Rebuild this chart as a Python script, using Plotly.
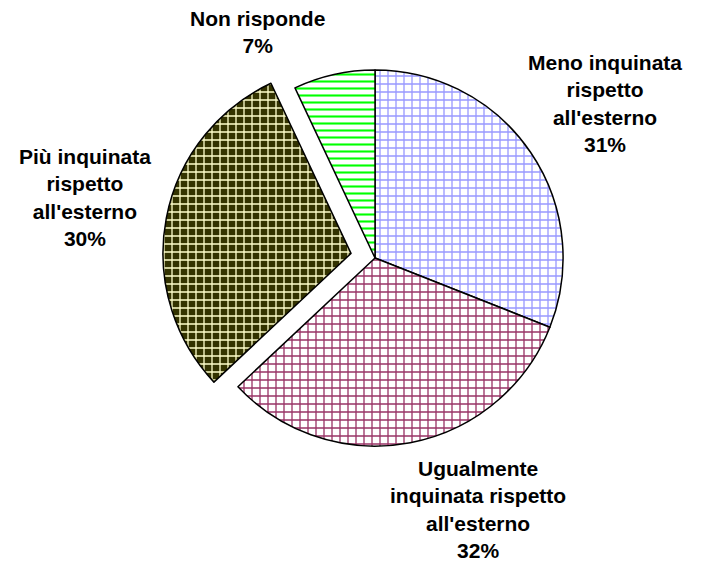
import plotly.graph_objects as go

labels = ["Meno inquinata<br>rispetto<br>all'esterno",
          "Ugualmente<br>inquinata rispetto<br>all'esterno",
          "Più inquinata<br>rispetto<br>all'esterno",
          "Non risponde"]
values = [31, 32, 30, 7]
pulls = [0, 0, 0.13, 0]

bg_colors = ["#ffffff", "#ffffff", "#333300", "#ffffff"]
fg_colors = ["#9999ff", "#993366", "#ffffcc", "#00ff00"]
shapes = ["+", "+", "+", "-"]
sizes = [8, 8, 8, 7]
solid = [0.3, 0.3, 0.3, 0.3]

# label anchor positions (paper fraction)
label_x = [0.8468, 0.6667, 0.1092, 0.3546]
label_y = [0.833, 0.1195, 0.6678, 0.957]

fig = go.Figure(go.Pie(
    labels=labels,
    values=values,
    sort=False,
    direction="clockwise",
    rotation=0,
    pull=pulls,
    textinfo="none",
    hoverinfo="label+percent",
    showlegend=False,
    marker=dict(
        colors=bg_colors,
        line=dict(color="black", width=1.5),
        pattern=dict(shape=shapes, fgcolor=fg_colors, bgcolor=bg_colors,
                     size=sizes, solidity=solid, fillmode="overlay", fgopacity=1),
    ),
    domain=dict(x=[0.2192, 0.8220], y=[0.1872, 0.9341]),
))

total = sum(values)
for lab, v, x, y in zip(labels, values, label_x, label_y):
    pct = round(100 * v / total)
    fig.add_annotation(
        x=x, y=y, xref="paper", yref="paper",
        text=f"<b>{lab}<br>{pct}%</b>",
        showarrow=False, align="center",
        xanchor="center", yanchor="middle",
        font=dict(family="Arial, Liberation Sans, sans-serif", size=21, color="black"),
    )

fig.update_layout(
    width=705, height=569,
    margin=dict(l=0, r=0, t=0, b=0),
    paper_bgcolor="white", plot_bgcolor="white",
)

fig.write_html("out.html")
